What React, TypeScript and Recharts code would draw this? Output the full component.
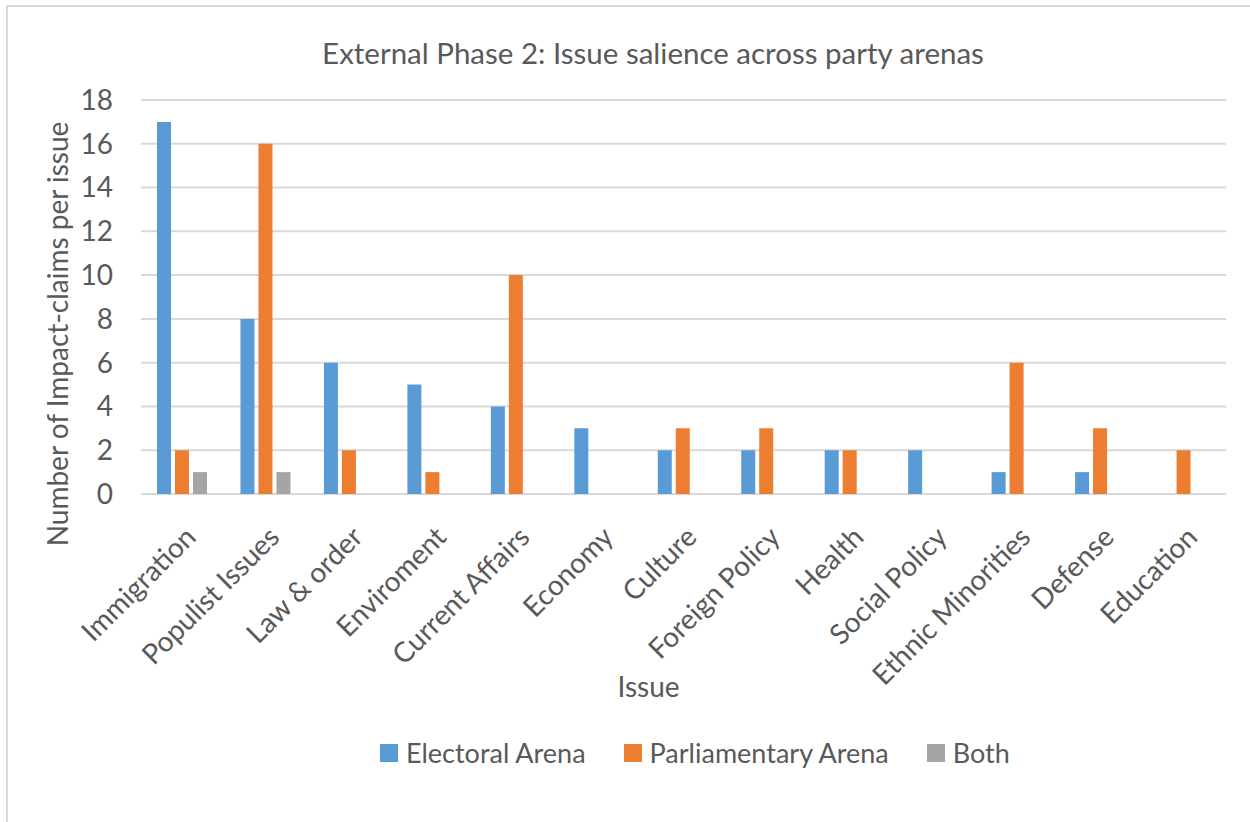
import React from "react";
import { Bar, BarChart, CartesianGrid, Label, Legend, XAxis, YAxis } from "recharts";

const issues = [
  "Immigration",
  "Populist Issues",
  "Law & order",
  "Enviroment",
  "Current Affairs",
  "Economy",
  "Culture",
  "Foreign Policy",
  "Health",
  "Social Policy",
  "Ethnic Minorities",
  "Defense",
  "Education",
];
const electoral = [17, 8, 6, 5, 4, 3, 2, 2, 2, 2, 1, 1, 0];
const parliamentary = [2, 16, 2, 1, 10, 0, 3, 3, 2, 0, 6, 3, 2];
const both = [1, 1, 0, 0, 0, 0, 0, 0, 0, 0, 0, 0, 0];
const yTicks = [0, 2, 4, 6, 8, 10, 12, 14, 16, 18];
const seriesNames = ["Electoral Arena", "Parliamentary Arena", "Both"];

const data = issues.map((name, i) => ({
  name,
  electoral: electoral[i],
  parliamentary: parliamentary[i],
  both: both[i],
}));

const TEXT = "#595959";
const GRID = "#d9d9d9";
const FONT = "Lato, 'Open Sans', sans-serif";

function CategoryTick({ x, y, payload }: any) {
  return (
    <g transform={`translate(${x},${y})`}>
      <text
        textAnchor="end"
        transform="rotate(-45)"
        dy="0.75em"
        fontSize={28}
        fill={TEXT}
        fontFamily={FONT}
      >
        {payload.value}
      </text>
    </g>
  );
}

function LegendContent({ payload }: any) {
  const items = [...(payload || [])].sort(
    (a: any, b: any) => seriesNames.indexOf(a.value) - seriesNames.indexOf(b.value)
  );
  return (
    <div style={{ display: "flex", alignItems: "center", fontFamily: FONT }}>
      {items.map((p: any) => (
        <div
          key={p.value}
          style={{ display: "flex", alignItems: "center", marginRight: 38 }}
        >
          <span
            style={{ width: 18, height: 18, background: p.color, marginRight: 8 }}
          />
          <span style={{ fontSize: 27, color: TEXT }}>{p.value}</span>
        </div>
      ))}
    </div>
  );
}

export default function App() {
  return (
    <div
      style={{
        position: "absolute",
        left: 0,
        top: 0,
        width: 1250,
        height: 822,
        background: "#fff",
        fontFamily: FONT,
        overflow: "hidden",
      }}
    >
      <div
        style={{
          position: "absolute",
          left: 6,
          top: 5,
          right: -4,
          bottom: -4,
          borderTop: `2px solid ${GRID}`,
          borderLeft: `2px solid ${GRID}`,
        }}
      />
      <div
        style={{
          position: "absolute",
          top: 35,
          left: 0,
          width: 1306,
          textAlign: "center",
          fontSize: 29.5,
          color: TEXT,
        }}
      >
        External Phase 2: Issue salience across party arenas
      </div>
      <BarChart
        width={1250}
        height={822}
        data={data}
        margin={{ top: 100, right: 24, left: 61, bottom: 113 }}
        barCategoryGap={16}
        barGap={4}
      >
        <CartesianGrid vertical={false} stroke={GRID} strokeWidth={2} />
        <XAxis
          dataKey="name"
          interval={0}
          height={215}
          axisLine={false}
          tickLine={false}
          tickMargin={24}
          tick={<CategoryTick />}
        >
          <Label
            content={({ viewBox }: any) => (
              <text
                x={viewBox.x + viewBox.width / 2 - 35}
                y={viewBox.y + viewBox.height - 12}
                textAnchor="middle"
                fontSize={28}
                fill={TEXT}
                fontFamily={FONT}
              >
                Issue
              </text>
            )}
          />
        </XAxis>
        <YAxis
          width={80}
          domain={[0, 18]}
          ticks={yTicks}
          axisLine={false}
          tickLine={false}
          tickMargin={22}
          tick={{ fontSize: 28, fill: TEXT, fontFamily: FONT }}
        >
          <Label
            content={({ viewBox }: any) => {
              const cx = 57;
              const cy = viewBox.y + viewBox.height / 2 + 37;
              return (
                <text
                  x={cx}
                  y={cy}
                  transform={`rotate(-90, ${cx}, ${cy})`}
                  textAnchor="middle"
                  dominantBaseline="central"
                  fontSize={28}
                  fill={TEXT}
                  fontFamily={FONT}
                >
                  Number of Impact-claims per issue
                </text>
              );
            }}
          />
        </YAxis>
        <Legend
          verticalAlign="middle"
          align="center"
          layout="horizontal"
          content={<LegendContent />}
          wrapperStyle={{ top: 736, left: 380, width: 860 }}
        />
        <Bar dataKey="electoral" name="Electoral Arena" fill="#5b9bd5" isAnimationActive={false} />
        <Bar dataKey="parliamentary" name="Parliamentary Arena" fill="#ed7d31" isAnimationActive={false} />
        <Bar dataKey="both" name="Both" fill="#a5a5a5" isAnimationActive={false} />
      </BarChart>
    </div>
  );
}
